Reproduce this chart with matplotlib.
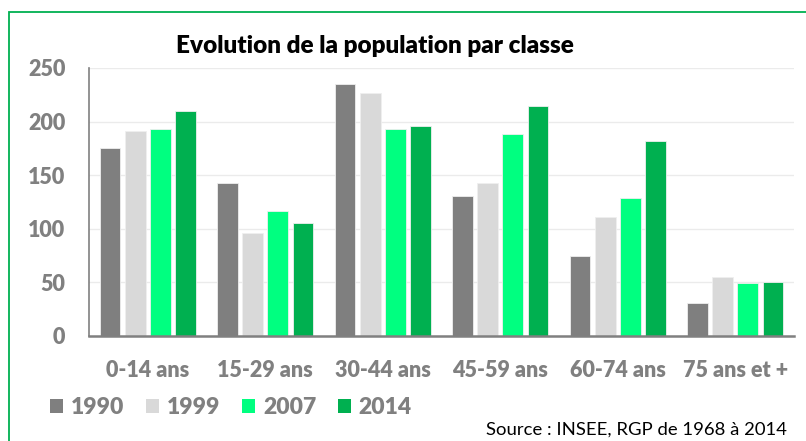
import matplotlib
matplotlib.use("Agg")
import matplotlib.pyplot as plt
from matplotlib.patches import Patch, Rectangle
import numpy as np

categories = ["0-14 ans", "15-29 ans", "30-44 ans", "45-59 ans", "60-74 ans", "75 ans et +"]
years = ["1990", "1999", "2007", "2014"]
v1990 = [175, 143, 235, 131, 75, 31]
v1999 = [191, 96, 227, 143, 111, 55]
v2007 = [193, 117, 193, 188, 129, 49]
v2014 = [210, 105, 196, 215, 182, 50]
series = [v1990, v1999, v2007, v2014]
colors = ["#7F7F7F", "#D9D9D9", "#00FF80", "#00B050"]
yticks = [0, 50, 100, 150, 200, 250]

plt.rcParams['font.family'] = ['Lato', 'DejaVu Sans']
fig = plt.figure(figsize=(8.06, 4.41), dpi=100)
W, H = 806, 441
ax = fig.add_axes([89 / W, 1 - 336 / H, (794 - 89) / W, (336 - 68) / H])

x = np.arange(len(categories))
pitch = 0.213
for i, (vals, c) in enumerate(zip(series, colors)):
    ax.bar(x + (i - 1.5) * pitch, vals, width=0.175, color=c, zorder=3,
           edgecolor='#EFEFEF', linewidth=0.6)

ax.set_xlim(-0.5, len(categories) - 0.5)
ax.set_ylim(0, 250)
ax.set_yticks(yticks)
ax.set_xticks(x)
ax.set_xticklabels(categories)
ax.tick_params(axis='both', length=0, labelsize=15.5, labelcolor='#808080', pad=17)
for lab in ax.get_xticklabels() + ax.get_yticklabels():
    lab.set_fontweight('heavy')
ax.grid(axis='y', color='#EBEBEB', linewidth=1, zorder=0)
for s in ['top', 'right']:
    ax.spines[s].set_visible(False)
ax.spines['left'].set_color('#808080')
ax.spines['left'].set_linewidth(1.2)
ax.spines['bottom'].set_color('#808080')
ax.spines['bottom'].set_linewidth(1.8)
ax.spines['bottom'].set_zorder(4)

fig.text(375 / W, 1 - 46 / H, "Evolution de la population par classe", ha='center', va='center',
         fontsize=17.5, fontweight='heavy', color='black')

handles = [Patch(facecolor=c, edgecolor='none') for c in colors]
leg = fig.legend(handles, years, loc='center left', bbox_to_anchor=(34 / W, 1 - 408 / H), ncol=4,
                 frameon=False, prop={'size': 16.5, 'weight': 'heavy'}, handlelength=0.55,
                 handleheight=0.55, handletextpad=0.36, columnspacing=0.95, borderpad=0.2)
for t in leg.get_texts():
    t.set_color('#808080')

fig.text(787 / W, 1 - 430 / H, "Source : INSEE, RGP de 1968 à 2014", ha='right', va='center',
         fontsize=13.3, color='black')

border = Rectangle((8.5 / W, -0.1), 1.1, 1 - 11.5 / H + 0.1, transform=fig.transFigure,
                   fill=False, edgecolor='#00B050', linewidth=1.3, clip_on=False)
fig.patches.append(border)

fig.savefig("out.png", dpi=100)
